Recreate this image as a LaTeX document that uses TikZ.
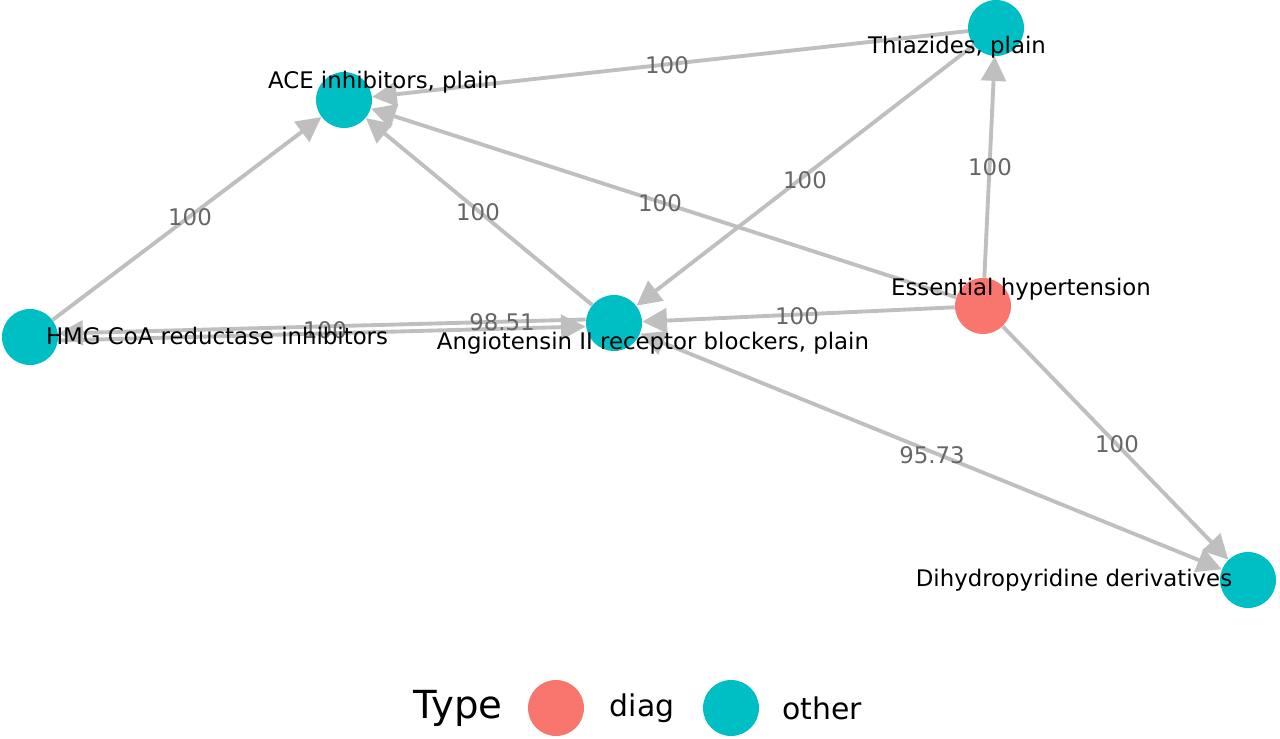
\documentclass[tikz,border=0pt]{standalone}
\usepackage{fontspec}
\setmainfont{DejaVu Sans}
\usetikzlibrary{arrows.meta}
\begin{document}
\begin{tikzpicture}[x=0.02cm,y=-0.02cm,
    vert/.style={circle,minimum size=1.12cm,inner sep=0pt},
    vlab/.style={font=\fontsize{13}{15}\selectfont,text=black},
    wlab/.style={font=\fontsize{13}{15}\selectfont,text=black!60},
    edge/.style={draw=black!25,line width=2.2pt,-{Triangle[length=14pt,width=14pt]}}]
    \definecolor{diagcol}{HTML}{F8766D}
    \definecolor{othercol}{HTML}{00BFC4}
    \useasboundingbox (0,0) rectangle (1280,739);
    % vertices
    \node[vert,fill=othercol] (ace) at (344,100) {};
    \node[vert,fill=othercol] (thz) at (996,28) {};
    \node[vert,fill=othercol] (hmg) at (30,337) {};
    \node[vert,fill=othercol] (arb) at (614,323) {};
    \node[vert,fill=diagcol]  (eh)  at (983,306) {};
    \node[vert,fill=othercol] (dhp) at (1248,580) {};
    % edges
    \draw[edge] (thz) -- (ace);
    \draw[edge] (eh) -- (thz);
    \draw[edge] (eh) -- (ace);
    \draw[edge] (arb) -- (ace);
    \draw[edge] (hmg) -- (ace);
    \draw[edge] (thz) -- (arb);
    \draw[edge] (eh) -- (arb);
    \draw[edge] ([yshift=-2pt]hmg.east) -- ([yshift=-2pt]arb.west);
    \draw[edge] ([yshift=2pt]arb.west) -- ([yshift=2pt]hmg.east);
    \draw[edge] (eh) -- (dhp);
    \draw[edge,{Triangle[length=14pt,width=14pt]}-{Triangle[length=14pt,width=14pt]}] (arb) -- (dhp);
    % weights
    \node[wlab] at (667,65) {100};
    \node[wlab] at (990,167) {100};
    \node[wlab] at (660,203) {100};
    \node[wlab] at (478,212) {100};
    \node[wlab] at (190,217) {100};
    \node[wlab] at (805,180) {100};
    \node[wlab] at (797,316) {100};
    \node[wlab] at (502,322) {98.51};
    \node[wlab] at (325,330) {100};
    \node[wlab] at (1117,444) {100};
    \node[wlab] at (932,455) {95.73};
    % names
    \node[vlab] at (383,82) {ACE inhibitors, plain};
    \node[vlab] at (957,47) {Thiazides, plain};
    \node[vlab] at (217,336) {HMG CoA reductase inhibitors};
    \node[vlab] at (653,343) {Angiotensin II receptor blockers, plain};
    \node[vlab] at (1021,289) {Essential hypertension};
    \node[vlab] at (1074,580) {Dihydropyridine derivatives};
    % legend
    \node[font=\fontsize{22}{26}\selectfont] (ttl) at (458,708) {Type};
    \node[vert,fill=diagcol] (kdiag) at (556,708) {};
    \node[font=\fontsize{17}{20}\selectfont] (tdiag) at (642,708) {diag};
    \node[vert,fill=othercol] (kother) at (731,708) {};
    \node[font=\fontsize{17}{20}\selectfont] (tother) at (822,708) {other};
\end{tikzpicture}
\end{document}
